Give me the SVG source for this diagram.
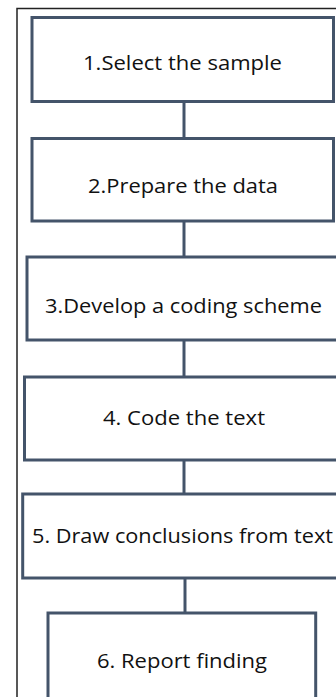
<svg xmlns="http://www.w3.org/2000/svg" width="336" height="697" viewBox="0 0 336 697">
<style>
.box{fill:#ffffff;stroke:#44546A;stroke-width:3}
.lbl{font-family:"Open Sans","Liberation Sans",sans-serif;font-size:20.5px;fill:#111111;text-anchor:middle}
.conn{stroke:#44546A;stroke-width:3;fill:none}
.frame{fill:none;stroke:#222222;stroke-width:1.5}
</style>
<rect width="336" height="697" fill="#ffffff"/>
<path class="frame" d="M17,700 V8.5 H340"/>
<g id="connectors">
<line class="conn" x1="184" y1="101.5" x2="184" y2="138.5"/>
<line class="conn" x1="184" y1="221" x2="184" y2="257"/>
<line class="conn" x1="184" y1="340" x2="184" y2="377"/>
<line class="conn" x1="184" y1="460" x2="184" y2="494"/>
<line class="conn" x1="185" y1="578" x2="185" y2="613"/>
</g>
<g id="n1"><rect class="box" x="32" y="17.5" width="301.5" height="84"/><text class="lbl" x="182.5" y="70" textLength="199" lengthAdjust="spacingAndGlyphs">1.Select the sample</text></g>
<g id="n2"><rect class="box" x="32" y="138.5" width="301.5" height="82.5"/><text class="lbl" x="183" y="193" textLength="190" lengthAdjust="spacingAndGlyphs">2.Prepare the data</text></g>
<g id="n3"><rect class="box" x="27" y="257" width="320" height="83"/><text class="lbl" x="183.5" y="313" textLength="277" lengthAdjust="spacingAndGlyphs">3.Develop a coding scheme</text></g>
<g id="n4"><rect class="box" x="24.5" y="377" width="320" height="83"/><text class="lbl" x="184" y="425" textLength="162" lengthAdjust="spacingAndGlyphs">4. Code the text</text></g>
<g id="n5"><rect class="box" x="22.7" y="494" width="320" height="84"/><text class="lbl" x="182.5" y="543" textLength="301" lengthAdjust="spacingAndGlyphs">5. Draw conclusions from text</text></g>
<g id="n6"><rect class="box" x="48" y="613" width="267.7" height="100"/><text class="lbl" x="182" y="668" textLength="170" lengthAdjust="spacingAndGlyphs">6. Report finding</text></g>
</svg>
